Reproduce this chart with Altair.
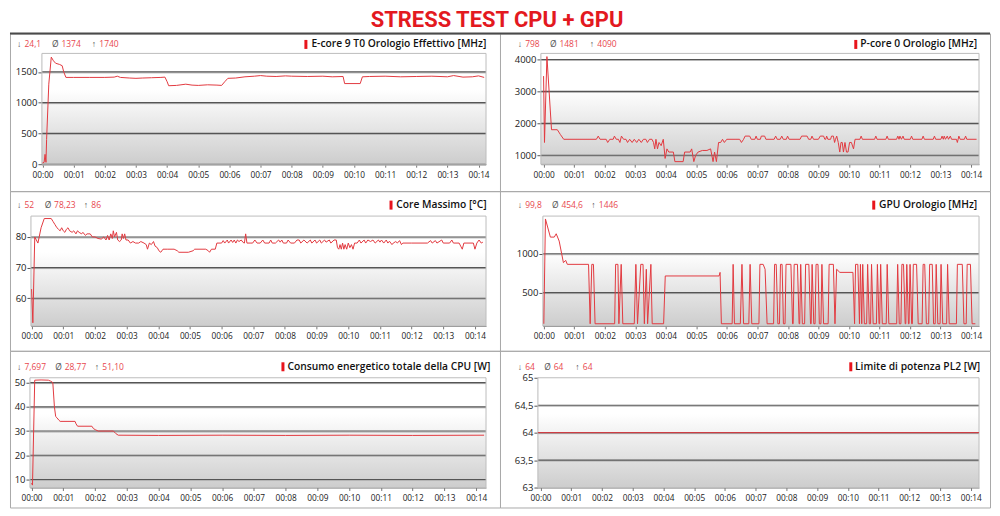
import altair as alt
import pandas as pd

# ---------------- data ----------------
minutes = list(range(15))

ecore_t = [0.00, 0.05, 0.08, 0.11, 0.13, 0.20, 0.28, 0.35, 0.42, 0.55, 0.63, 0.68, 0.75, 1.0, 1.5, 2.0, 2.3, 2.4, 2.5,
           2.8, 3.0, 3.2, 3.5, 3.8, 3.93, 4.0, 4.05, 4.3, 4.6, 4.8, 5.0, 5.3, 5.6, 5.75, 5.85, 5.95, 6.2, 6.5, 6.8,
           7.0, 7.2, 7.5, 7.8, 8.0, 8.5, 9.0, 9.3, 9.65, 9.7, 10.2, 10.27, 10.5, 11.0, 11.5, 12.0, 12.5, 13.0, 13.2,
           13.5, 13.8, 14.0, 14.18]
ecore_v = [20, 30, 160, 30, 400, 1300, 1740, 1680, 1640, 1620, 1600, 1500, 1410, 1410, 1410, 1410, 1415, 1430, 1410,
           1400, 1395, 1400, 1405, 1410, 1415, 1340, 1275, 1280, 1300, 1285, 1280, 1290, 1285, 1280, 1340, 1395, 1400,
           1420, 1430, 1440, 1430, 1425, 1435, 1430, 1425, 1430, 1420, 1425, 1310, 1310, 1420, 1425, 1430, 1420, 1425,
           1430, 1420, 1440, 1415, 1420, 1435, 1410]

pcore_t = [0.00, 0.03, 0.11, 0.26, 0.45, 0.55, 0.66, 1.73, 1.79, 1.85, 2.05, 2.1, 2.17, 2.28, 2.32, 2.38, 2.45, 2.5,
           2.55, 2.62, 2.7, 2.75, 2.82, 2.9, 2.97, 3.05, 3.12, 3.2, 3.27, 3.35, 3.4, 3.47, 3.55, 3.6, 3.64, 3.68,
           3.73, 3.78, 3.85, 3.92, 3.98, 4.04, 4.1, 4.25, 4.3, 4.57, 4.62, 4.8, 4.85, 4.92, 4.98, 5.06, 5.2, 5.35,
           5.47, 5.55, 5.6, 5.66, 5.73, 5.8, 5.86, 5.92, 6.0, 6.3, 6.42, 6.48, 6.55, 6.6, 6.75, 6.8, 6.92, 6.96,
           7.0, 7.1, 7.13, 7.24, 7.28, 7.55, 7.6, 7.65, 7.75, 7.8, 7.85, 7.95, 7.99, 8.04, 8.4, 8.45, 8.63, 8.68,
           8.75, 8.79, 8.84, 9.0, 9.06, 9.17, 9.21, 9.24, 9.27, 9.31, 9.4, 9.43, 9.49, 9.53, 9.56, 9.6, 9.65, 9.7,
           9.74, 9.78, 9.82, 9.87, 9.92, 9.97, 10.02, 10.08, 10.15, 10.2, 10.36, 10.4, 10.44, 10.84, 10.88, 10.92,
           11.21, 11.25, 11.29, 11.56, 11.6, 11.64, 11.67, 11.72, 11.77, 11.81, 12.01, 12.05, 12.09, 12.39, 12.43,
           12.47, 12.76, 12.8, 12.84, 13.01, 13.05, 13.09, 13.12, 13.16, 13.22, 13.26, 13.32, 13.36, 13.52, 13.55,
           13.6, 13.64, 13.78, 13.82, 13.86, 14.18]
pcore_v = [3480, 1400, 4090, 1800, 1800, 1650, 1500, 1500, 1600, 1500, 1500, 1400, 1500, 1500, 1600, 1500, 1500, 1400,
           1600, 1500, 1500, 1400, 1500, 1400, 1500, 1400, 1500, 1400, 1500, 1500, 1400, 1500, 1500, 1400, 1200, 1500,
           1200, 1400, 1300, 1500, 900, 1200, 1100, 1100, 800, 800, 1100, 1100, 1200, 800, 1000, 1100, 1150, 1150,
           1200, 800, 1100, 800, 1400, 1400, 1500, 1400, 1500, 1500, 1500, 1400, 1500, 1600, 1600, 1500, 1500, 1600,
           1500, 1500, 1600, 1600, 1500, 1500, 1600, 1500, 1500, 1600, 1500, 1500, 1600, 1500, 1500, 1600, 1600, 1500,
           1500, 1600, 1500, 1500, 1600, 1600, 1500, 1500, 1600, 1500, 1500, 1600, 1600, 1400, 1500, 1600, 1400, 1100,
           1400, 1400, 1100, 1400, 1100, 1100, 1400, 1400, 1200, 1500, 1500, 1600, 1500, 1500, 1600, 1500,
           1500, 1600, 1500, 1500, 1600, 1500, 1600, 1500, 1600, 1500, 1500, 1600, 1500, 1500, 1600,
           1500, 1500, 1600, 1500, 1500, 1600, 1500, 1600, 1500, 1600, 1500, 1600, 1500, 1500, 1400,
           1600, 1500, 1500, 1600, 1500, 1500]

temp_t = [0.0, 0.04, 0.1, 0.15, 0.2, 0.3, 0.4, 0.62, 0.68, 0.74, 0.8, 0.85, 0.9, 0.95, 1.0, 1.05, 1.1, 1.15, 1.2, 1.28,
          1.33, 1.4, 1.45, 1.5, 1.58, 1.62, 1.7, 1.75, 1.85, 1.92, 2.0, 2.1, 2.2, 2.28, 2.35, 2.4, 2.45, 2.5, 2.55,
          2.58, 2.62, 2.68, 2.72, 2.78, 2.83, 2.86, 2.9, 2.94, 2.98, 3.05, 3.12, 3.2, 3.28, 3.38, 3.45, 3.55, 3.62,
          3.66, 3.72, 3.78, 3.85, 3.9, 3.97, 4.02, 4.08, 4.15, 4.3, 4.5, 4.6, 4.65, 4.95, 5.1, 5.15, 5.5, 5.58, 5.62,
          5.68, 5.8, 5.85, 6.0, 6.05, 6.1, 6.18, 6.22, 6.3, 6.35, 6.4, 6.45, 6.5, 6.55, 6.62, 6.68, 6.72, 6.76, 6.8,
          6.9, 6.98, 7.05, 7.12, 7.22, 7.3, 7.36, 7.5, 7.55, 7.6, 7.7, 7.8, 7.85, 7.9, 7.95, 8.05, 8.1, 8.18, 8.3,
          8.38, 8.45, 8.5, 8.6, 8.7, 8.8, 8.85, 8.95, 9.0, 9.1, 9.15, 9.25, 9.3, 9.4, 9.45, 9.55, 9.62, 9.66, 9.7,
          9.74, 9.78, 9.82, 9.86, 9.9, 9.95, 10.0, 10.05, 10.1, 10.15, 10.2, 10.28, 10.35, 10.4, 10.5, 10.55, 10.62,
          10.7, 10.78, 10.85, 10.95, 11.0, 11.05, 11.12, 11.2, 11.25, 11.3, 11.38, 11.42, 11.5, 11.55, 11.62, 11.68,
          11.72, 12.0, 12.5, 12.6, 12.65, 12.75, 12.8, 12.95, 13.0, 13.2, 13.27, 13.32, 13.5, 13.55, 13.6, 13.65,
          13.95, 14.0, 14.06, 14.13, 14.2, 14.25]
temp_v = [63, 52, 80, 79, 78, 83, 86, 86, 85, 84, 83, 82.5, 82, 83, 82, 81.5, 82.5, 83, 82, 81.5,
          82, 81, 82, 81.5, 81, 81.5, 80.5, 81, 81, 80, 80, 79.5, 79.3, 80, 79, 80.5, 79, 81, 79.5,
          82, 80, 81.5, 79, 78.5, 79, 81, 79.5, 81, 79, 79, 78, 78.5, 78, 78, 78.5, 78, 77.5,
          76, 78, 77.5, 78.5, 77, 76.5, 75.5, 75, 76, 76, 76, 75.5, 75, 75, 75.5, 76, 76, 75.5, 75,
          76, 76, 78, 78, 78.8, 78, 79, 78, 79, 78.2, 79, 78, 79, 78.5, 79, 78.2, 78, 81, 78,
          78, 78, 79, 78, 78, 79, 78, 78, 79, 78, 78, 79, 78.3, 79, 78, 78, 79, 78, 78,
          79, 79, 78, 79, 78, 79, 78, 79, 78, 79, 78, 79, 78.3, 79, 78, 79, 79, 76.5, 76,
          77.5, 76, 78, 76, 77.5, 76, 78, 76.5, 77.5, 76, 78, 78, 79, 78, 79, 78, 79,
          78.5, 79, 78, 79, 78.3, 79, 78, 79, 78, 78.6, 77.5, 78, 78.5, 78, 78.8, 77.5,
          78, 78, 78, 78.8, 78, 78.8, 78, 79, 78, 78, 79, 78, 78, 77, 76, 78,
          78, 76, 78, 79, 78, 78.3]

gpu_t = [0.0, 0.053, 0.214, 0.342, 0.406, 0.503, 0.642, 0.717, 0.77, 1.465, 1.519, 1.572, 1.626, 1.679, 2.321, 2.353,
         2.428, 2.46, 2.535, 2.588, 2.963, 3.016, 3.07, 3.177, 3.251, 3.294, 3.358, 3.401, 3.508, 3.551, 3.925, 3.979,
         5.743, 5.775, 5.818, 6.171, 6.203, 6.246, 6.439, 6.492, 6.545, 6.717, 6.759, 6.813, 7.048, 7.08, 7.187, 7.25,
         7.316, 7.529, 7.561, 7.615, 7.668, 7.722, 7.754, 7.807, 7.85, 7.904, 7.936, 8.096, 8.15, 8.17, 8.203, 8.31,
         8.364, 8.385, 8.417, 8.471, 8.545, 8.578, 8.684, 8.738, 8.76, 8.791, 8.845, 8.888, 8.92, 8.984, 9.027, 9.08,
         9.112, 9.166, 9.316, 9.348, 9.487, 9.54, 9.594, 9.7, 10.128, 10.182, 10.214, 10.289, 10.342, 10.374, 10.417,
         10.449, 10.503, 10.578, 10.61, 10.663, 10.706, 10.738, 10.791, 10.898, 10.93, 10.984, 11.005, 11.037,
         11.091, 11.219, 11.251, 11.305, 11.562, 11.594, 11.647, 11.701, 11.733, 11.786, 11.84, 11.861, 11.893,
         11.947, 11.968, 12.0, 12.053, 12.075, 12.107, 12.214, 12.267, 12.396, 12.428, 12.481, 12.535, 12.61,
         12.642, 12.727, 12.77, 12.824, 12.856, 12.91, 12.984, 13.016, 13.07, 13.198, 13.23, 13.283, 13.519,
         13.551, 13.711, 13.765, 13.84, 13.872, 13.979, 14.032, 14.139]
gpu_v = [100, 1446, 1213, 1213, 1256, 1162, 885, 914, 863, 863, 100, 863, 863, 100, 100, 863,
         863, 100, 863, 100, 100, 863, 100, 863, 863, 100, 800, 100, 863, 100, 100, 714,
         714, 760, 100, 100, 863, 100, 100, 863, 100, 100, 863, 100, 100, 863, 863, 800,
         100, 100, 863, 863, 100, 100, 863, 863, 100, 100, 863, 863, 100, 100, 863, 863,
         100, 100, 863, 100, 100, 863, 863, 100, 100, 863, 100, 100, 863, 863, 100, 100,
         863, 100, 100, 863, 863, 100, 800, 760, 760, 100, 863, 863, 100, 863, 100,
         863, 100, 100, 863, 100, 100, 863, 100, 100, 863, 100, 100, 863,
         100, 100, 863, 100, 100, 863, 100, 100, 863, 863, 100, 100, 863,
         100, 100, 863, 100, 100, 863, 863, 100, 100, 863, 863, 100, 100,
         863, 863, 100, 100, 863, 100, 100, 863, 100, 100, 863, 100, 100,
         863, 863, 100, 100, 863, 863, 100, 100]

power_t = [0.0, 0.03, 0.1, 0.3, 0.53, 0.6, 0.67, 0.72, 0.76, 0.8, 0.86, 0.9, 1.37, 1.4, 1.45, 1.9, 1.95, 2.02, 2.1,
           2.58, 2.65, 2.73, 4.0, 6.0, 8.0, 10.0, 12.0, 14.25]
power_v = [8.5, 7.7, 51, 51.1, 51, 50.6, 50, 40, 36, 35.5, 34.5, 34, 34, 33, 32, 32, 31, 30.5, 30,
           30, 29, 28.3, 28.2, 28.3, 28.2, 28.3, 28.2, 28.3]

pl2_t = [-0.085, 14.27]
pl2_v = [64, 64]

series = [(ecore_t, ecore_v), (pcore_t, pcore_v), (temp_t, temp_v),
          (gpu_t, gpu_v), (power_t, power_v), (pl2_t, pl2_v)]

names = ["E-core 9 T0 Orologio Effettivo [MHz]", "P-core 0 Orologio [MHz]", "Core Massimo [°C]",
         "GPU Orologio [MHz]", "Consumo energetico totale della CPU [W]", "Limite di potenza PL2 [W]"]
stat_min = ["24,1", "798", "52", "99,8", "7,697", "64"]
stat_avg = ["1374", "1481", "78,23", "454,6", "28,77", "64"]
stat_max = ["1740", "4090", "86", "1446", "51,10", "64"]

y_ticks = [[0, 500, 1000, 1500], [1000, 2000, 3000, 4000], [60, 70, 80],
           [500, 1000], [10, 20, 30, 40, 50], [63, 63.5, 64, 64.5, 65]]
y_domains = [[0, 1800], [720, 4190], [51, 86.8], [73, 1483], [6.7, 52], [63, 65]]

# ---------------- layout (page pixels) ----------------
layout = [
    dict(frame=(8, 32, 499, 190), plot=(40, 52, 485, 163), xdom=(-0.02, 14.24), hy=43,
         sx=(15, 50, 90), bar=303, name_x=310),
    dict(frame=(499, 32, 990, 190), plot=(540, 52, 979, 163), xdom=(-0.087, 14.26), hy=43,
         sx=(516.7, 549, 589), bar=854, name_x=860),
    dict(frame=(8, 190, 499, 350), plot=(29, 215, 485, 325), xdom=(-0.02, 14.35), hy=204,
         sx=(15, 42.7, 82), bar=388.3, name_x=395),
    dict(frame=(499, 190, 990, 350), plot=(542, 215, 979, 325), xdom=(-0.03, 14.26), hy=204,
         sx=(516.7, 551, 590.5), bar=872, name_x=878.7),
    dict(frame=(8, 350, 499, 507), plot=(28, 377, 485, 487), xdom=(-0.05, 14.31), hy=366,
         sx=(15, 53.3, 93), bar=280, name_x=286),
    dict(frame=(499, 350, 990, 507), plot=(537, 377, 979, 487), xdom=(-0.085, 14.27), hy=366,
         sx=(516.7, 543.3, 574.5), bar=849, name_x=854.7),
]

FONT = "Open Sans"
TITLE_FONT = "Roboto, Liberation Sans, sans-serif"
RED = "#e23a40"
NUMRED = "#e8474e"
DARK = "#4a4a4a"
one = pd.DataFrame({"k": [0]})

gradient = alt.LinearGradient(
    gradient="linear",
    stops=[alt.GradientStop(offset=0, color="#ffffff"),
           alt.GradientStop(offset=0.33, color="#ffffff"),
           alt.GradientStop(offset=1, color="#cdcdcd")],
    x1=0, x2=0, y1=0, y2=1)


def txt(s, x, y, color, size, weight="normal"):
    return alt.Chart(one).mark_text(
        text=s, align="left", baseline="middle", font=FONT, fontSize=size,
        fontWeight=weight, color=color).encode(x=alt.value(x), y=alt.value(y))


def panel(i):
    lay = layout[i]
    fl, ft, fr, fb = lay["frame"]
    pl, pt, pr, pb = lay["plot"]
    FW, FH = fr - fl, fb - ft
    x0, x1 = pl - fl, pr - fl          # plot area inside the panel frame
    y0, y1 = pt - ft, pb - ft
    t, v = series[i]
    lo, hi = y_domains[i]

    xs = alt.Scale(domain=list(lay["xdom"]), range=[x0, x1], nice=False, zero=False)
    ys = alt.Scale(domain=[lo, hi], range=[y1, y0], nice=False, zero=False)
    xaxis = alt.Axis(values=minutes, title=None, grid=False, offset=-(FH - y1),
                     labelExpr="'00:' + (datum.value < 10 ? '0' : '') + datum.value",
                     labelFont=FONT, labelFontSize=8.3, labelColor="#222222",
                     labelFlush=False, labelOverlap=False, labelPadding=3,
                     tickSize=3, tickColor="#777777", domainColor="#7a7a7a")
    yaxis = alt.Axis(values=y_ticks[i], title=None, grid=False, offset=-x0,
                     labelExpr="replace(toString(datum.value), '.', ',')",
                     labelFont=FONT, labelFontSize=9.5, labelColor="#222222",
                     labelOverlap=False, labelPadding=1,
                     tickSize=4, tickColor="#555555", domainColor="#8a8a8a")
    Y = alt.Y("v:Q", scale=ys, axis=yaxis)

    inner = [g for g in y_ticks[i] if lo < g < hi or (g == lo and i == 0)]
    grid_df = pd.DataFrame({"v": inner})

    bg = alt.Chart(one).mark_rect(color=gradient).encode(
        x=alt.value(x0), x2=alt.value(x1), y=alt.value(y0), y2=alt.value(y1))
    border = alt.Chart(one).mark_rect(fillOpacity=0, stroke="#bdbdbd", strokeWidth=1).encode(
        x=alt.value(x0), x2=alt.value(x1), y=alt.value(y0), y2=alt.value(y1))
    grid_lt = alt.Chart(grid_df).mark_rule(color="#b4b4b4", strokeWidth=1, yOffset=1).encode(
        y=Y, x=alt.value(x0), x2=alt.value(x1))
    grid_dk = alt.Chart(grid_df).mark_rule(color="#555555", strokeWidth=1.1).encode(
        y=Y, x=alt.value(x0), x2=alt.value(x1))
    line = alt.Chart(pd.DataFrame({"t": t, "v": v})).mark_line(color=RED, strokeWidth=1).encode(
        x=alt.X("t:Q", scale=xs, axis=xaxis), y=Y)

    sx = lay["sx"]
    hy = lay["hy"] - ft
    header = [
        txt("↓", sx[0] - fl, hy, "#555555", 8.5),
        txt(stat_min[i], sx[0] + 7.5 - fl, hy, NUMRED, 8.5),
        txt("Ø", sx[1] - fl, hy, "#555555", 8.5),
        txt(stat_avg[i], sx[1] + 9.5 - fl, hy, NUMRED, 8.5),
        txt("↑", sx[2] - fl, hy, "#555555", 8.5),
        txt(stat_max[i], sx[2] + 7.5 - fl, hy, NUMRED, 8.5),
        alt.Chart(one).mark_rect(color="#e8141c").encode(
            x=alt.value(lay["bar"] - fl), x2=alt.value(lay["bar"] + 3 - fl),
            y=alt.value(hy - 4.5), y2=alt.value(hy + 4.5)),
        txt(names[i], lay["name_x"] - fl, hy, "#111111", 10.3, 600),
    ]
    layers = [bg, grid_lt, grid_dk, border, line] + header
    if ft < 100:
        layers.append(alt.Chart(one).mark_rule(color=DARK, strokeWidth=2).encode(
            x=alt.value(0), x2=alt.value(FW), y=alt.value(0)))
    return alt.layer(*layers).properties(width=FW, height=FH)


chart = alt.concat(*[panel(i) for i in range(6)], columns=2, spacing=0,
                   bounds="flush", align="each").properties(
    padding=0,
    title=alt.TitleParams(text="STRESS TEST CPU + GPU", font=TITLE_FONT, fontSize=22,
                          fontWeight="bold", color="#e3191f", anchor="middle", offset=0, dx=-3),
).configure_view(stroke="#a9a9a9", strokeWidth=1)

chart.save("out.html", embed_options={"renderer": "svg", "actions": False})
